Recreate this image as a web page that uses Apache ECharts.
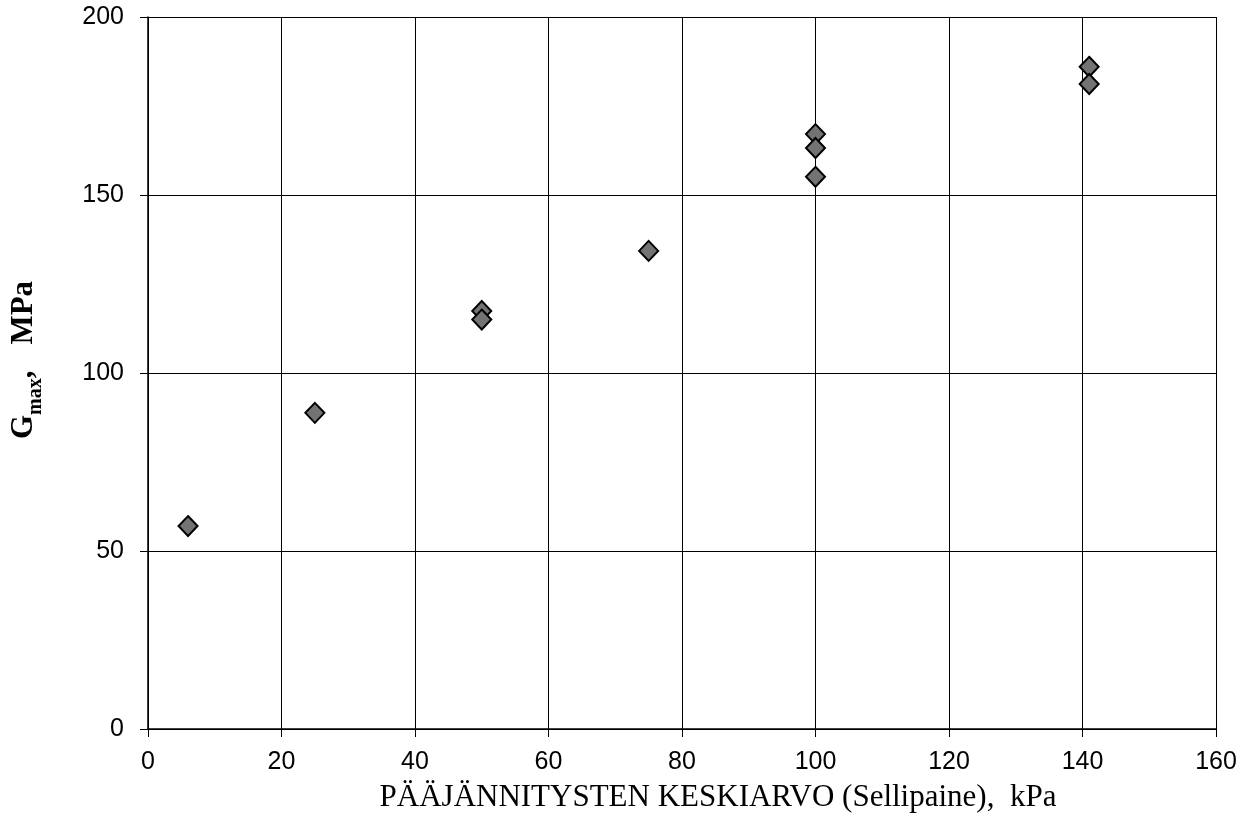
<!DOCTYPE html>
<html>
<head>
<meta charset="utf-8">
<script src="https://cdn.jsdelivr.net/npm/echarts@6/dist/echarts.min.js"></script>
<style>html,body{margin:0;padding:0;background:#fff}#c{width:1250px;height:825px}</style>
</head>
<body>
<div id="c"></div>
<script>
const xValues = [6, 25, 50, 50, 75, 100, 100, 100, 141, 141];
const yValues = [57, 88.8, 117.4, 115, 134.3, 167.1, 163.2, 155.1, 186, 181.2];
const xTicks = [0, 20, 40, 60, 80, 100, 120, 140, 160];
const yTicks = [0, 50, 100, 150, 200];
const xTitle = 'PÄÄJÄNNITYSTEN KESKIARVO (Sellipaine),  kPa';

const chart = echarts.init(document.getElementById('c'));
const pts = xValues.map((x, i) => [x, yValues[i]]);
const serif = 'Liberation Serif, Times New Roman';
chart.setOption({
  animation: false,
  backgroundColor: '#fff',
  grid: { left: 148, right: 34, top: 17, bottom: 96 },
  xAxis: {
    type: 'value', min: xTicks[0], max: xTicks[xTicks.length - 1], interval: 20,
    axisLine: { onZero: false, lineStyle: { color: '#000', width: 1.5 } },
    axisTick: { show: true, length: 8, lineStyle: { color: '#000' } },
    splitLine: { show: true, lineStyle: { color: '#000', width: 1 } },
    axisLabel: { color: '#000', fontFamily: 'Liberation Sans, Arial', fontSize: 25, margin: 21 },
    name: xTitle, nameLocation: 'middle', nameGap: 53,
    nameTextStyle: { color: '#000', fontFamily: serif, fontSize: 31, padding: [0, 0, 0, 72] }
  },
  yAxis: {
    type: 'value', min: yTicks[0], max: yTicks[yTicks.length - 1], interval: 50,
    axisLine: { onZero: false, lineStyle: { color: '#000', width: 1.5 } },
    axisTick: { show: true, length: 8, lineStyle: { color: '#000' } },
    splitLine: { show: true, lineStyle: { color: '#000', width: 1 } },
    axisLabel: { color: '#000', fontFamily: 'Liberation Sans, Arial', fontSize: 25, margin: 24 },
    name: '{g|G}{s|max}{c|,}{g|MPa}', nameLocation: 'middle', nameGap: 109, nameRotate: 90,
    nameTextStyle: {
      color: '#000',
      padding: [0, 0, 0, 26],
      rich: {
        g: { fontFamily: serif, fontWeight: 'bold', fontSize: 31, color: '#000', lineHeight: 34, verticalAlign: 'bottom' },
        c: { fontFamily: serif, fontWeight: 'bold', fontSize: 31, color: '#000', lineHeight: 34, verticalAlign: 'bottom', padding: [0, 26, 0, 0] },
        s: { fontFamily: serif, fontWeight: 'bold', fontSize: 20, color: '#000', lineHeight: 34, verticalAlign: 'bottom', padding: [0, 0, -7, 0] }
      }
    }
  },
  series: [{
    type: 'scatter', data: pts, symbol: 'diamond', symbolSize: [19, 20],
    itemStyle: { color: '#737373', borderColor: '#000', borderWidth: 2, opacity: 1 }
  }]
});
</script>
</body>
</html>
